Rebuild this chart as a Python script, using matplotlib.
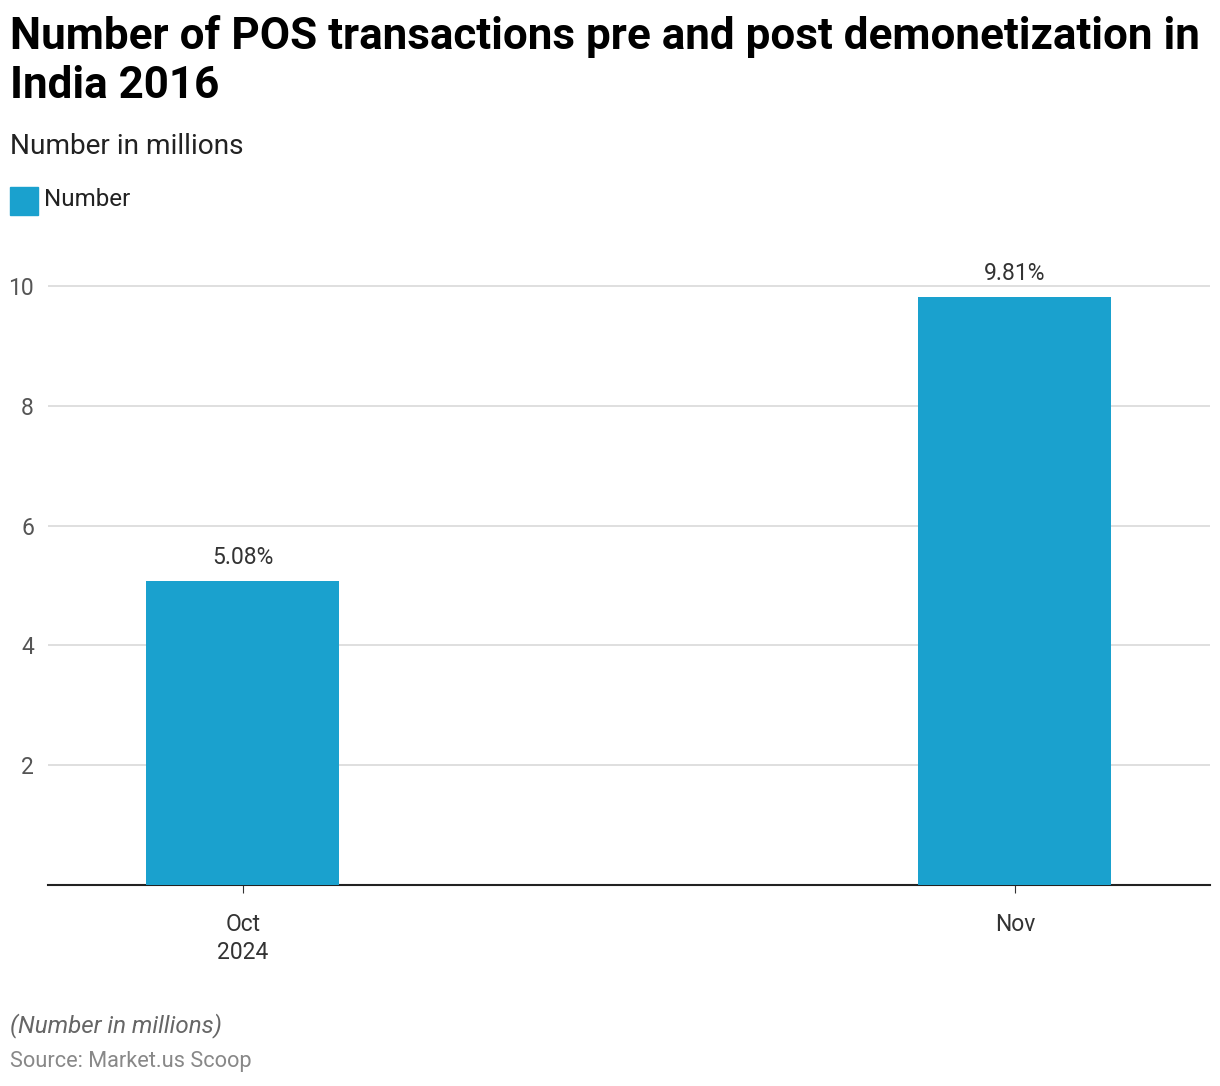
import matplotlib.pyplot as plt
from matplotlib.patches import Rectangle

# data
months = ["Oct\n2024", "Nov"]
values = [5.08, 9.81]
value_labels = ["5.08%", "9.81%"]
y_ticks = [2, 4, 6, 8, 10]

bar_color = "#1aa1ce"
plt.rcParams['font.family'] = ['Roboto', 'DejaVu Sans']

fig = plt.figure(figsize=(12.2, 10.86), dpi=100)
ax = fig.add_axes([0.0393, 0.1851, 0.9525, 0.5792])

x = range(len(months))
ax.bar(x, values, width=0.25, color=bar_color, zorder=3)
for xi, v, lab in zip(x, values, value_labels):
    ax.text(xi, v + 0.2, lab, ha='center', va='bottom', fontsize=16.5, color='#333333')

ax.set_xlim(-0.2526, 1.2526)
ax.set_ylim(0, 10.5)
ax.set_yticks(y_ticks)
ax.set_yticklabels([str(t) for t in y_ticks], fontsize=16.5, color='#555555')
ax.set_xticks(list(x))
ax.set_xticklabels(months, fontsize=16.5, color='#333333', linespacing=1.3)
ax.tick_params(axis='y', length=0, pad=10)
ax.tick_params(axis='x', length=6, color='#333333', pad=14)
ax.grid(axis='y', color='#d9d9d9', linewidth=1.2, zorder=0)
for s in ['top', 'right', 'left']:
    ax.spines[s].set_visible(False)
ax.spines['bottom'].set_color('#222222')
ax.spines['bottom'].set_linewidth(1.5)

# header
fig.text(10 / 1220, 1 - 15 / 1086, "Number of POS transactions pre and post demonetization in\nIndia 2016",
         fontsize=31.7, fontweight='bold', va='top', ha='left', linespacing=1.22)
fig.text(10 / 1220, 1 - 147 / 1086, "Number in millions", fontsize=20.2, va='center', ha='left', color='#222222')
fig.patches.append(Rectangle((10 / 1220, 1 - 215 / 1086), 28 / 1220, 28 / 1086,
                             transform=fig.transFigure, color=bar_color))
fig.text(44 / 1220, 1 - 200 / 1086, "Number", fontsize=17.4, va='center', ha='left', color='#222222')

# footer
fig.text(10 / 1220, 1 - 1026 / 1086, "(Number in millions)", fontsize=17.4, style='italic',
         va='center', ha='left', color='#666666')
fig.text(10 / 1220, 1 - 1062 / 1086, "Source: Market.us Scoop", fontsize=15.7,
         va='center', ha='left', color='#888888')

fig.savefig("out.png", dpi=100)
